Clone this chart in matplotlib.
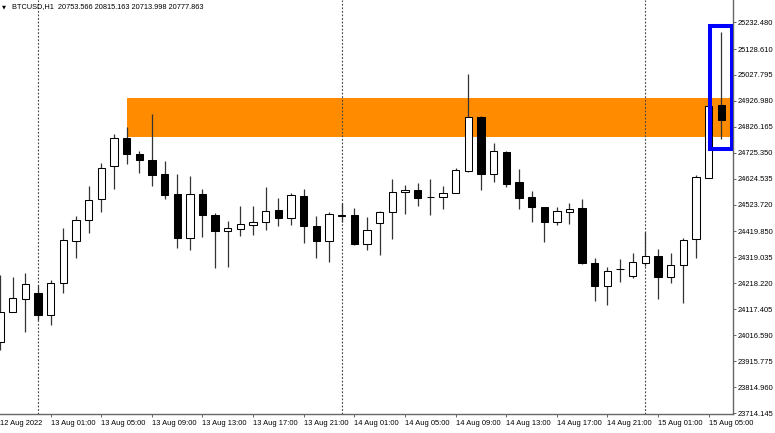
import pandas as pd
import numpy as np
import matplotlib
matplotlib.use('Agg')
import matplotlib.pyplot as plt
from matplotlib.patches import Rectangle

# BTCUSD H1 bars, 12 Aug 2022 21:00 .. 15 Aug 2022 06:00
times = pd.date_range('2022-08-12 21:00', periods=58, freq='h')
opens = [23990, 24108, 24157, 24182, 24095, 24218, 24384, 24464, 24546, 24674,
         24784, 24720, 24697, 24642, 24564, 24395, 24566, 24484, 24421, 24430,
         24446, 24455, 24502, 24471, 24557, 24441, 24384, 24481, 24484, 24370,
         24451, 24494, 24572, 24581, 24552, 24555, 24570, 24655, 24866, 24642,
         24730, 24611, 24552, 24516, 24458, 24494, 24510, 24298, 24208, 24272,
         24247, 24296, 24326, 24244, 24289, 24390, 24626, 24911]
highs = [24250, 24244, 24257, 24212, 24231, 24434, 24481, 24596, 24687, 24797,
         24827, 24732, 24876, 24694, 24643, 24635, 24585, 24490, 24462, 24519,
         24519, 24591, 24549, 24568, 24584, 24480, 24496, 24531, 24512, 24477,
         24500, 24624, 24600, 24607, 24624, 24598, 24667, 25030, 24868, 24762,
         24732, 24661, 24577, 24516, 24516, 24529, 24545, 24315, 24280, 24312,
         24337, 24416, 24352, 24337, 24393, 24639, 24911, 25196]
lows = [23959, 24105, 24030, 24076, 24056, 24179, 24315, 24415, 24496, 24585,
        24682, 24646, 24596, 24545, 24357, 24348, 24397, 24279, 24283, 24403,
        24406, 24425, 24441, 24445, 24376, 24315, 24302, 24456, 24367, 24348,
        24328, 24390, 24486, 24520, 24484, 24507, 24569, 24652, 24581, 24611,
        24591, 24507, 24458, 24380, 24445, 24449, 24293, 24151, 24134, 24224,
        24238, 24285, 24156, 24218, 24143, 24315, 24626, 24779]
closes = [24107, 24160, 24215, 24095, 24218, 24386, 24464, 24542, 24667, 24784,
          24720, 24697, 24639, 24561, 24393, 24566, 24484, 24421, 24432, 24448,
          24456, 24499, 24471, 24561, 24441, 24384, 24489, 24482, 24370, 24425,
          24496, 24572, 24581, 24551, 24553, 24568, 24659, 24863, 24643, 24732,
          24604, 24551, 24516, 24458, 24499, 24508, 24296, 24208, 24267, 24273,
          24302, 24326, 24244, 24289, 24387, 24630, 24907, 24853]

price_labels = ['25232.480', '25128.610', '25027.795', '24926.980', '24826.165',
                '24725.350', '24624.535', '24523.720', '24419.850', '24319.035',
                '24218.220', '24117.405', '24016.590', '23915.775', '23814.960',
                '23714.145']
time_labels = ['12 Aug 2022', '13 Aug 01:00', '13 Aug 05:00', '13 Aug 09:00',
               '13 Aug 13:00', '13 Aug 17:00', '13 Aug 21:00', '14 Aug 01:00',
               '14 Aug 05:00', '14 Aug 09:00', '14 Aug 13:00', '14 Aug 17:00',
               '14 Aug 21:00', '15 Aug 01:00', '15 Aug 05:00']

# supply zone and highlight box
zone_start = '2022-08-13 07:00'
zone_low, zone_high = 24788, 24937
box_start = '2022-08-15 05:00'
box_low, box_high = 24741, 25219

header = 'BTCUSD,H1  20753.566 20815.163 20713.998 20777.863'

plt.rcParams['font.family'] = ['Liberation Sans', 'DejaVu Sans']

W, H = 775, 433
fig = plt.figure(figsize=(W / 100, H / 100), dpi=100)
ax = fig.add_axes([0, 19 / H, 733 / W, 414 / H])

x = np.arange(len(times))
o = np.array(opens, float)
c = np.array(closes, float)

zi = list(times).index(pd.Timestamp(zone_start))
ax.add_patch(Rectangle((zi, zone_low), 100, zone_high - zone_low,
                       facecolor='#ff8c00', edgecolor='none', zorder=2))

# day separators (drawn over the zone)
for i, t in enumerate(times):
    if t.hour == 0:
        ax.axvline(i, color='#444444', lw=0.8, ls=(0, (1.6, 1.6)), zorder=2.5)

ax.vlines(x, lows, highs, color='#333333', lw=0.9, zorder=3)
bull = c >= o
ax.bar(x, np.maximum(np.abs(c - o), 0.5), bottom=np.minimum(o, c), width=0.58,
       color=np.where(bull, 'white', 'black'), edgecolor='black', linewidth=0.75,
       zorder=4)

bi = list(times).index(pd.Timestamp(box_start))
ax.add_patch(Rectangle((bi + 0.08, box_low), 1.78, box_high - box_low,
                       facecolor='none', edgecolor='#0000ff', lw=2.9, zorder=5))

ax.set_xlim(0.02, 57.92)
ax.set_ylim(23710.3, 25319.1)

for s in ['top', 'left']:
    ax.spines[s].set_visible(False)
for s in ['right', 'bottom']:
    ax.spines[s].set_color('#666666')
    ax.spines[s].set_linewidth(1.0)

ax.yaxis.tick_right()
ax.set_yticks([float(v) for v in price_labels])
ax.set_yticklabels(price_labels)
ax.tick_params(axis='y', length=2.5, width=0.7, color='#666666', pad=1.2,
               labelsize=5.4, labelcolor='black')

# first bar gets the date label, then every 4th hour
xt = [i for i, t in enumerate(times) if t.hour % 4 == 1]
ax.set_xticks(xt)
ax.set_xticklabels(time_labels[:len(xt)], ha='left')
ax.tick_params(axis='x', length=2.5, width=0.7, color='#666666', pad=2,
               labelsize=5.4, labelcolor='black')
ax.get_xticklines()[0].set_visible(False)

fig.text(2 / W, 1 - 7 / H, '\u25bc', fontsize=3.8, va='center', ha='left',
         family='DejaVu Sans')
fig.text(11.5 / W, 1 - 7 / H, header, fontsize=5.3, va='center', ha='left')

fig.savefig('out.png', dpi=100)
